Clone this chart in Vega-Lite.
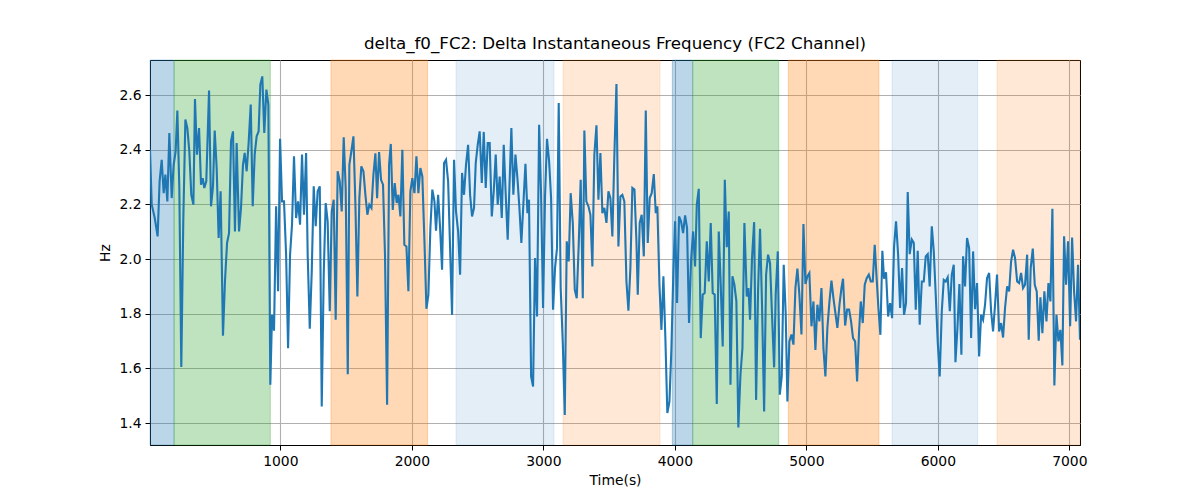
{
  "$schema": "https://vega.github.io/schema/vega-lite/v6.json",
  "title": {"text": "delta_f0_FC2: Delta Instantaneous Frequency (FC2 Channel)", "font": "DejaVu Sans", "fontSize": 16.7, "fontWeight": "normal", "color": "black", "anchor": "middle", "offset": 7},
  "width": 930,
  "height": 385,
  "autosize": "none",
  "padding": {"left": 150, "top": 60, "right": 120, "bottom": 55},
  "datasets": {
    "spans": [
      {"phase": "A", "start": 9, "end": 192},
      {"phase": "B", "start": 192, "end": 924},
      {"phase": "C", "start": 1385, "end": 2120},
      {"phase": "D", "start": 2336, "end": 3081},
      {"phase": "E", "start": 3150, "end": 3887},
      {"phase": "A", "start": 3981, "end": 4136},
      {"phase": "B", "start": 4136, "end": 4790},
      {"phase": "C", "start": 4863, "end": 5552},
      {"phase": "D", "start": 5652, "end": 6303},
      {"phase": "E", "start": 6450, "end": 7081}
    ],
    "series": [
      {"t": 9, "v": 2.40}, {"t": 22, "v": 2.20}, {"t": 45, "v": 2.15}, {"t": 67, "v": 2.083}, {"t": 82, "v": 2.284},
      {"t": 98, "v": 2.363}, {"t": 113, "v": 2.241}, {"t": 126, "v": 2.309}, {"t": 141, "v": 2.211}, {"t": 156, "v": 2.461},
      {"t": 174, "v": 2.223}, {"t": 189, "v": 2.345}, {"t": 204, "v": 2.394}, {"t": 217, "v": 2.543}, {"t": 232, "v": 2.260},
      {"t": 247, "v": 1.605}, {"t": 262, "v": 2.138}, {"t": 278, "v": 2.510}, {"t": 293, "v": 2.479}, {"t": 308, "v": 2.394},
      {"t": 323, "v": 2.235}, {"t": 339, "v": 2.199}, {"t": 351, "v": 2.585}, {"t": 366, "v": 2.382}, {"t": 382, "v": 2.479},
      {"t": 397, "v": 2.272}, {"t": 410, "v": 2.296}, {"t": 422, "v": 2.260}, {"t": 437, "v": 2.284}, {"t": 458, "v": 2.616},
      {"t": 473, "v": 2.193}, {"t": 488, "v": 2.266}, {"t": 501, "v": 2.470}, {"t": 516, "v": 2.333}, {"t": 531, "v": 2.077},
      {"t": 546, "v": 2.248}, {"t": 564, "v": 1.720}, {"t": 579, "v": 1.918}, {"t": 595, "v": 2.059}, {"t": 610, "v": 2.095},
      {"t": 625, "v": 2.430}, {"t": 640, "v": 2.467}, {"t": 655, "v": 2.101}, {"t": 668, "v": 2.424}, {"t": 686, "v": 2.101},
      {"t": 701, "v": 2.187}, {"t": 716, "v": 2.345}, {"t": 729, "v": 2.388}, {"t": 744, "v": 2.321}, {"t": 759, "v": 2.424},
      {"t": 775, "v": 2.565}, {"t": 790, "v": 2.193}, {"t": 805, "v": 2.382}, {"t": 820, "v": 2.449}, {"t": 835, "v": 2.467},
      {"t": 848, "v": 2.638}, {"t": 863, "v": 2.668}, {"t": 878, "v": 2.461}, {"t": 894, "v": 2.620}, {"t": 909, "v": 2.565},
      {"t": 924, "v": 1.540}, {"t": 937, "v": 1.796}, {"t": 952, "v": 1.738}, {"t": 968, "v": 2.193}, {"t": 983, "v": 1.882},
      {"t": 998, "v": 2.440}, {"t": 1013, "v": 2.211}, {"t": 1028, "v": 2.211}, {"t": 1044, "v": 2.016}, {"t": 1059, "v": 1.674},
      {"t": 1074, "v": 2.016}, {"t": 1089, "v": 2.126}, {"t": 1104, "v": 2.376}, {"t": 1120, "v": 2.150}, {"t": 1135, "v": 2.211},
      {"t": 1150, "v": 2.126}, {"t": 1165, "v": 2.382}, {"t": 1180, "v": 2.162}, {"t": 1196, "v": 2.388}, {"t": 1208, "v": 2.016},
      {"t": 1224, "v": 1.745}, {"t": 1239, "v": 1.955}, {"t": 1254, "v": 2.266}, {"t": 1269, "v": 2.120}, {"t": 1284, "v": 2.248},
      {"t": 1300, "v": 2.266}, {"t": 1315, "v": 1.461}, {"t": 1330, "v": 1.943}, {"t": 1345, "v": 2.205}, {"t": 1360, "v": 2.138},
      {"t": 1376, "v": 1.809}, {"t": 1391, "v": 2.174}, {"t": 1406, "v": 2.217}, {"t": 1421, "v": 1.778}, {"t": 1436, "v": 2.321},
      {"t": 1452, "v": 2.284}, {"t": 1467, "v": 2.174}, {"t": 1482, "v": 2.445}, {"t": 1497, "v": 2.260}, {"t": 1513, "v": 1.579},
      {"t": 1525, "v": 2.345}, {"t": 1540, "v": 2.394}, {"t": 1556, "v": 2.449}, {"t": 1571, "v": 2.199}, {"t": 1586, "v": 1.863},
      {"t": 1601, "v": 2.223}, {"t": 1616, "v": 2.339}, {"t": 1632, "v": 2.321}, {"t": 1647, "v": 2.235}, {"t": 1662, "v": 2.162},
      {"t": 1677, "v": 2.199}, {"t": 1693, "v": 2.187}, {"t": 1708, "v": 2.309}, {"t": 1723, "v": 2.387}, {"t": 1736, "v": 2.223},
      {"t": 1751, "v": 2.391}, {"t": 1766, "v": 2.290}, {"t": 1781, "v": 2.272}, {"t": 1796, "v": 2.016}, {"t": 1812, "v": 1.467},
      {"t": 1827, "v": 2.345}, {"t": 1840, "v": 2.421}, {"t": 1855, "v": 2.180}, {"t": 1870, "v": 2.278}, {"t": 1885, "v": 2.205},
      {"t": 1898, "v": 2.235}, {"t": 1913, "v": 2.156}, {"t": 1928, "v": 2.400}, {"t": 1943, "v": 2.052}, {"t": 1959, "v": 2.046},
      {"t": 1974, "v": 1.882}, {"t": 1989, "v": 2.248}, {"t": 2004, "v": 2.296}, {"t": 2020, "v": 2.241}, {"t": 2035, "v": 2.376},
      {"t": 2050, "v": 2.241}, {"t": 2065, "v": 2.333}, {"t": 2080, "v": 2.302}, {"t": 2096, "v": 2.065}, {"t": 2111, "v": 1.818},
      {"t": 2126, "v": 1.870}, {"t": 2141, "v": 2.113}, {"t": 2156, "v": 2.254}, {"t": 2172, "v": 2.211}, {"t": 2184, "v": 2.104},
      {"t": 2200, "v": 2.235}, {"t": 2215, "v": 2.113}, {"t": 2230, "v": 1.961}, {"t": 2245, "v": 2.351}, {"t": 2260, "v": 2.363},
      {"t": 2276, "v": 2.284}, {"t": 2291, "v": 2.040}, {"t": 2306, "v": 1.796}, {"t": 2321, "v": 2.363}, {"t": 2336, "v": 2.174},
      {"t": 2352, "v": 2.101}, {"t": 2367, "v": 1.943}, {"t": 2382, "v": 2.315}, {"t": 2397, "v": 2.235}, {"t": 2412, "v": 2.345},
      {"t": 2428, "v": 2.418}, {"t": 2443, "v": 2.235}, {"t": 2458, "v": 2.156}, {"t": 2473, "v": 2.187}, {"t": 2486, "v": 2.351},
      {"t": 2501, "v": 2.418}, {"t": 2516, "v": 2.467}, {"t": 2532, "v": 2.278}, {"t": 2547, "v": 2.465}, {"t": 2562, "v": 2.260},
      {"t": 2577, "v": 2.424}, {"t": 2592, "v": 2.424}, {"t": 2608, "v": 2.156}, {"t": 2623, "v": 2.248}, {"t": 2638, "v": 2.382},
      {"t": 2653, "v": 2.199}, {"t": 2668, "v": 2.302}, {"t": 2684, "v": 2.150}, {"t": 2699, "v": 2.418}, {"t": 2714, "v": 2.235},
      {"t": 2729, "v": 2.071}, {"t": 2757, "v": 2.479}, {"t": 2772, "v": 2.235}, {"t": 2788, "v": 2.382}, {"t": 2803, "v": 2.296},
      {"t": 2818, "v": 2.187}, {"t": 2833, "v": 2.059}, {"t": 2848, "v": 2.199}, {"t": 2864, "v": 2.348}, {"t": 2879, "v": 2.168},
      {"t": 2891, "v": 2.217}, {"t": 2907, "v": 1.571}, {"t": 2922, "v": 1.534}, {"t": 2937, "v": 2.004}, {"t": 2952, "v": 1.790},
      {"t": 2968, "v": 2.491}, {"t": 2983, "v": 2.235}, {"t": 2998, "v": 1.821}, {"t": 3013, "v": 2.229}, {"t": 3028, "v": 2.440},
      {"t": 3044, "v": 2.357}, {"t": 3059, "v": 2.223}, {"t": 3074, "v": 1.815}, {"t": 3089, "v": 1.967}, {"t": 3104, "v": 2.040},
      {"t": 3117, "v": 2.571}, {"t": 3132, "v": 1.894}, {"t": 3148, "v": 1.693}, {"t": 3163, "v": 1.430}, {"t": 3178, "v": 2.065},
      {"t": 3193, "v": 1.991}, {"t": 3208, "v": 2.241}, {"t": 3224, "v": 2.132}, {"t": 3239, "v": 1.888}, {"t": 3254, "v": 1.857},
      {"t": 3269, "v": 2.052}, {"t": 3284, "v": 2.290}, {"t": 3300, "v": 1.857}, {"t": 3312, "v": 2.470}, {"t": 3327, "v": 2.211},
      {"t": 3343, "v": 2.193}, {"t": 3358, "v": 2.162}, {"t": 3373, "v": 1.973}, {"t": 3388, "v": 2.382}, {"t": 3404, "v": 2.489},
      {"t": 3419, "v": 2.217}, {"t": 3434, "v": 2.388}, {"t": 3449, "v": 2.168}, {"t": 3464, "v": 2.187}, {"t": 3480, "v": 2.132},
      {"t": 3495, "v": 2.248}, {"t": 3510, "v": 2.223}, {"t": 3525, "v": 2.083}, {"t": 3540, "v": 2.376}, {"t": 3556, "v": 2.640},
      {"t": 3571, "v": 2.046}, {"t": 3586, "v": 2.229}, {"t": 3601, "v": 2.235}, {"t": 3616, "v": 2.211}, {"t": 3632, "v": 1.918},
      {"t": 3647, "v": 1.811}, {"t": 3662, "v": 1.967}, {"t": 3677, "v": 2.260}, {"t": 3693, "v": 2.254}, {"t": 3708, "v": 2.065},
      {"t": 3718, "v": 1.870}, {"t": 3733, "v": 2.132}, {"t": 3748, "v": 2.162}, {"t": 3764, "v": 2.010}, {"t": 3779, "v": 2.543},
      {"t": 3794, "v": 2.059}, {"t": 3809, "v": 2.223}, {"t": 3824, "v": 2.241}, {"t": 3840, "v": 2.311}, {"t": 3855, "v": 2.168},
      {"t": 3867, "v": 2.193}, {"t": 3883, "v": 1.906}, {"t": 3898, "v": 1.741}, {"t": 3913, "v": 1.937}, {"t": 3928, "v": 1.711},
      {"t": 3943, "v": 1.437}, {"t": 3959, "v": 1.479}, {"t": 3974, "v": 1.674}, {"t": 3989, "v": 1.955}, {"t": 4002, "v": 2.138},
      {"t": 4017, "v": 1.839}, {"t": 4032, "v": 2.156}, {"t": 4047, "v": 2.138}, {"t": 4063, "v": 2.095}, {"t": 4078, "v": 2.160},
      {"t": 4093, "v": 2.113}, {"t": 4108, "v": 1.766}, {"t": 4123, "v": 1.991}, {"t": 4139, "v": 2.101}, {"t": 4154, "v": 1.973},
      {"t": 4167, "v": 2.199}, {"t": 4182, "v": 2.257}, {"t": 4197, "v": 1.711}, {"t": 4212, "v": 1.870}, {"t": 4227, "v": 1.876},
      {"t": 4243, "v": 2.065}, {"t": 4258, "v": 1.918}, {"t": 4273, "v": 2.132}, {"t": 4288, "v": 1.876}, {"t": 4303, "v": 1.870},
      {"t": 4319, "v": 1.470}, {"t": 4334, "v": 2.101}, {"t": 4349, "v": 1.906}, {"t": 4364, "v": 1.680}, {"t": 4380, "v": 2.290},
      {"t": 4395, "v": 2.043}, {"t": 4410, "v": 2.174}, {"t": 4423, "v": 1.540}, {"t": 4438, "v": 1.937}, {"t": 4453, "v": 1.906},
      {"t": 4468, "v": 1.845}, {"t": 4483, "v": 1.384}, {"t": 4499, "v": 1.577}, {"t": 4514, "v": 1.674}, {"t": 4529, "v": 2.132},
      {"t": 4547, "v": 1.863}, {"t": 4560, "v": 1.894}, {"t": 4572, "v": 1.778}, {"t": 4587, "v": 2.004}, {"t": 4603, "v": 2.135},
      {"t": 4618, "v": 1.485}, {"t": 4633, "v": 1.888}, {"t": 4648, "v": 2.111}, {"t": 4663, "v": 1.833}, {"t": 4679, "v": 1.443},
      {"t": 4694, "v": 1.943}, {"t": 4709, "v": 2.016}, {"t": 4724, "v": 1.985}, {"t": 4739, "v": 1.796}, {"t": 4755, "v": 1.604},
      {"t": 4767, "v": 1.870}, {"t": 4783, "v": 2.028}, {"t": 4798, "v": 1.504}, {"t": 4813, "v": 1.571}, {"t": 4828, "v": 1.979},
      {"t": 4843, "v": 1.802}, {"t": 4856, "v": 1.479}, {"t": 4871, "v": 1.699}, {"t": 4887, "v": 1.724}, {"t": 4902, "v": 1.687},
      {"t": 4917, "v": 1.894}, {"t": 4932, "v": 1.965}, {"t": 4947, "v": 1.870}, {"t": 4963, "v": 1.724}, {"t": 4978, "v": 2.128},
      {"t": 4993, "v": 1.909}, {"t": 5008, "v": 1.937}, {"t": 5023, "v": 1.949}, {"t": 5039, "v": 1.754}, {"t": 5054, "v": 1.845},
      {"t": 5069, "v": 1.668}, {"t": 5084, "v": 1.833}, {"t": 5099, "v": 1.772}, {"t": 5115, "v": 1.894}, {"t": 5130, "v": 1.674},
      {"t": 5145, "v": 1.571}, {"t": 5160, "v": 1.748}, {"t": 5176, "v": 1.845}, {"t": 5191, "v": 1.921}, {"t": 5206, "v": 1.857},
      {"t": 5221, "v": 1.802}, {"t": 5236, "v": 1.748}, {"t": 5252, "v": 1.833}, {"t": 5267, "v": 1.894}, {"t": 5279, "v": 1.928},
      {"t": 5295, "v": 1.757}, {"t": 5310, "v": 1.815}, {"t": 5325, "v": 1.815}, {"t": 5340, "v": 1.772}, {"t": 5355, "v": 1.711},
      {"t": 5371, "v": 1.699}, {"t": 5386, "v": 1.552}, {"t": 5401, "v": 1.735}, {"t": 5414, "v": 1.845}, {"t": 5429, "v": 1.766},
      {"t": 5444, "v": 1.906}, {"t": 5459, "v": 1.930}, {"t": 5475, "v": 1.943}, {"t": 5490, "v": 1.918}, {"t": 5505, "v": 1.918},
      {"t": 5520, "v": 2.052}, {"t": 5533, "v": 1.943}, {"t": 5548, "v": 1.821}, {"t": 5563, "v": 1.723}, {"t": 5578, "v": 2.030},
      {"t": 5591, "v": 1.928}, {"t": 5606, "v": 1.952}, {"t": 5622, "v": 1.790}, {"t": 5637, "v": 1.839}, {"t": 5652, "v": 1.784},
      {"t": 5667, "v": 2.046}, {"t": 5682, "v": 2.138}, {"t": 5698, "v": 2.016}, {"t": 5713, "v": 1.821}, {"t": 5728, "v": 1.967},
      {"t": 5743, "v": 1.796}, {"t": 5758, "v": 1.839}, {"t": 5771, "v": 2.245}, {"t": 5786, "v": 2.018}, {"t": 5802, "v": 2.071},
      {"t": 5817, "v": 2.059}, {"t": 5832, "v": 1.815}, {"t": 5847, "v": 2.030}, {"t": 5862, "v": 1.760}, {"t": 5878, "v": 1.918},
      {"t": 5893, "v": 1.918}, {"t": 5908, "v": 2.010}, {"t": 5923, "v": 2.018}, {"t": 5938, "v": 1.900}, {"t": 5954, "v": 2.120},
      {"t": 5969, "v": 2.028}, {"t": 5984, "v": 1.870}, {"t": 5999, "v": 1.699}, {"t": 6014, "v": 1.571}, {"t": 6030, "v": 1.809},
      {"t": 6045, "v": 1.924}, {"t": 6060, "v": 1.918}, {"t": 6075, "v": 1.933}, {"t": 6091, "v": 1.809}, {"t": 6106, "v": 1.943},
      {"t": 6121, "v": 1.979}, {"t": 6134, "v": 1.623}, {"t": 6149, "v": 1.748}, {"t": 6164, "v": 1.909}, {"t": 6179, "v": 1.650},
      {"t": 6192, "v": 2.010}, {"t": 6207, "v": 1.900}, {"t": 6222, "v": 2.077}, {"t": 6238, "v": 2.040}, {"t": 6253, "v": 1.711},
      {"t": 6268, "v": 2.028}, {"t": 6283, "v": 1.817}, {"t": 6298, "v": 1.912}, {"t": 6314, "v": 1.644}, {"t": 6329, "v": 1.796},
      {"t": 6344, "v": 1.778}, {"t": 6359, "v": 1.833}, {"t": 6374, "v": 1.930}, {"t": 6390, "v": 1.949}, {"t": 6405, "v": 1.809},
      {"t": 6420, "v": 1.735}, {"t": 6435, "v": 1.833}, {"t": 6450, "v": 1.943}, {"t": 6466, "v": 1.735}, {"t": 6481, "v": 1.766},
      {"t": 6496, "v": 1.713}, {"t": 6511, "v": 1.821}, {"t": 6527, "v": 1.900}, {"t": 6542, "v": 1.882}, {"t": 6557, "v": 1.991},
      {"t": 6572, "v": 2.034}, {"t": 6587, "v": 2.004}, {"t": 6603, "v": 1.918}, {"t": 6618, "v": 1.912}, {"t": 6633, "v": 1.949},
      {"t": 6648, "v": 1.894}, {"t": 6663, "v": 1.906}, {"t": 6679, "v": 2.016}, {"t": 6691, "v": 1.705}, {"t": 6706, "v": 1.967},
      {"t": 6722, "v": 2.038}, {"t": 6737, "v": 1.906}, {"t": 6752, "v": 1.882}, {"t": 6767, "v": 1.701}, {"t": 6780, "v": 1.860},
      {"t": 6795, "v": 1.729}, {"t": 6810, "v": 1.882}, {"t": 6826, "v": 1.772}, {"t": 6841, "v": 1.912}, {"t": 6856, "v": 1.845},
      {"t": 6871, "v": 2.184}, {"t": 6886, "v": 1.538}, {"t": 6902, "v": 1.796}, {"t": 6917, "v": 1.699}, {"t": 6932, "v": 1.741},
      {"t": 6947, "v": 1.611}, {"t": 6960, "v": 2.083}, {"t": 6975, "v": 1.906}, {"t": 6990, "v": 2.065}, {"t": 7006, "v": 1.754},
      {"t": 7021, "v": 2.079}, {"t": 7036, "v": 1.882}, {"t": 7051, "v": 1.772}, {"t": 7066, "v": 1.979}, {"t": 7081, "v": 1.705}
    ]
  },
  "layer": [
    {
      "data": {"name": "spans"},
      "mark": {"type": "rect", "strokeWidth": 1},
      "encoding": {
        "x": {"field": "start", "type": "quantitative"},
        "x2": {"field": "end"},
        "color": {"field": "phase", "type": "nominal", "legend": null,
          "scale": {"domain": ["A", "B", "C", "D", "E"],
            "range": ["rgba(31,119,180,0.3)", "rgba(44,160,44,0.3)", "rgba(255,127,14,0.3)", "rgba(31,119,180,0.12)", "rgba(255,127,14,0.17)"]}},
        "stroke": {"field": "phase", "type": "nominal", "legend": null,
          "scale": {"domain": ["A", "B", "C", "D", "E"],
            "range": ["rgba(31,119,180,0.3)", "rgba(44,160,44,0.3)", "rgba(255,127,14,0.3)", "rgba(31,119,180,0.12)", "rgba(255,127,14,0.17)"]}}
      }
    },
    {
      "data": {"name": "series"},
      "mark": {"type": "line", "color": "#1f77b4", "strokeWidth": 2.1, "clip": true},
      "encoding": {
        "x": {"field": "t", "type": "quantitative", "title": "Time(s)",
          "scale": {"domain": [9, 7081], "nice": false, "zero": false},
          "axis": {"values": [1000, 2000, 3000, 4000, 5000, 6000, 7000], "format": "d"}},
        "y": {"field": "v", "type": "quantitative", "title": "Hz",
          "scale": {"domain": [1.32, 2.728], "nice": false, "zero": false},
          "axis": {"values": [1.4, 1.6, 1.8, 2.0, 2.2, 2.4, 2.6], "format": ".1f"}}
      }
    }
  ],
  "config": {
    "view": {"stroke": "black", "strokeWidth": 1},
    "font": "DejaVu Sans",
    "axis": {
      "labelFont": "DejaVu Sans", "labelFontSize": 13.9, "labelColor": "black",
      "titleFont": "DejaVu Sans", "titleFontSize": 13.9, "titleFontWeight": "normal", "titleColor": "black",
      "domainColor": "black", "tickColor": "black", "tickSize": 5, "labelPadding": 4,
      "grid": true, "gridColor": "#b0b0b0", "gridWidth": 1.1, "titlePadding": 6
    }
  }
}
